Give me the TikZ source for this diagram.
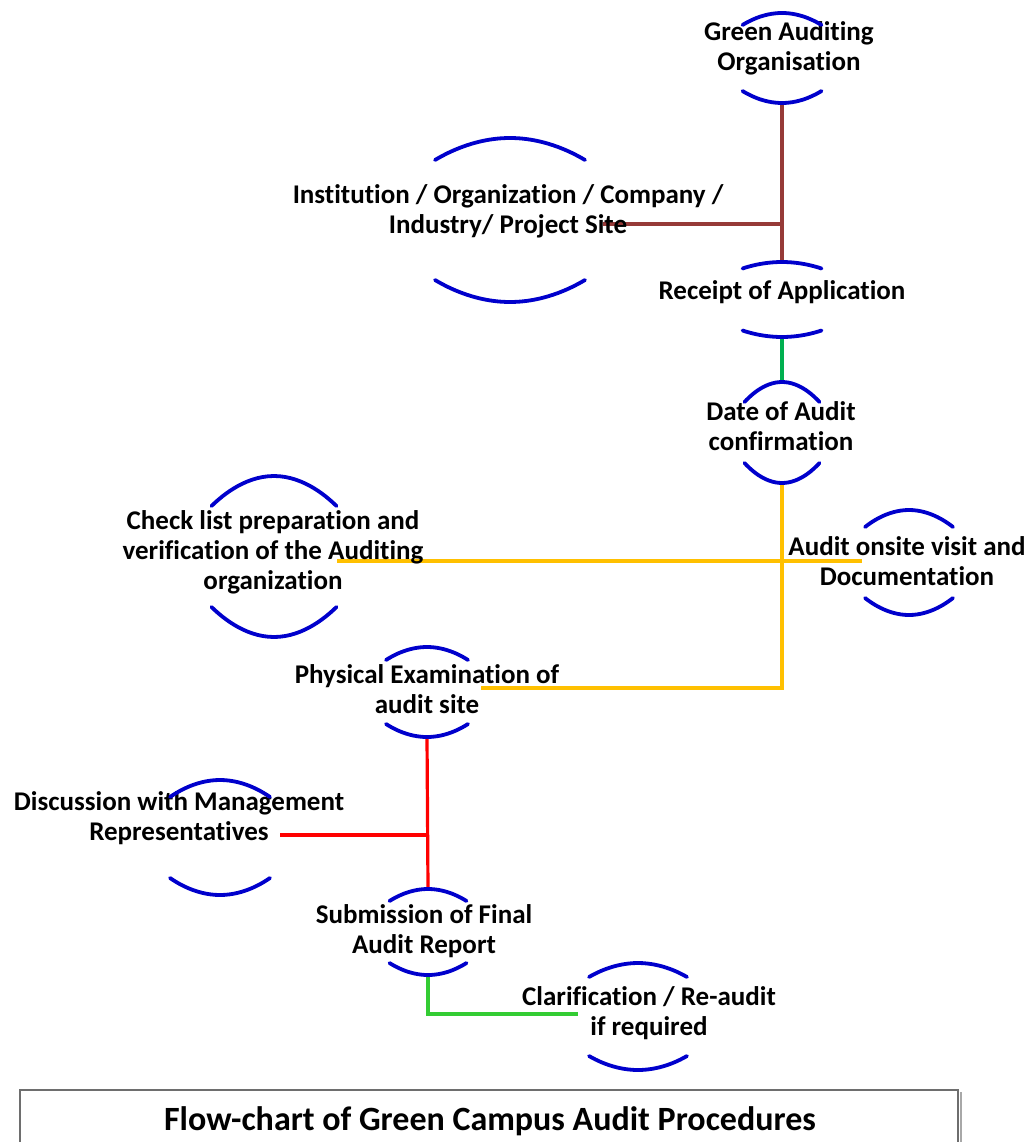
\documentclass[tikz,border=0pt]{standalone}
\usepackage{fontspec}
\setmainfont{Carlito}[Ligatures={NoCommon}]
\usetikzlibrary{calc,positioning,backgrounds}

\definecolor{arcblue}{RGB}{0,0,204}
\definecolor{linebrown}{RGB}{150,58,56}
\definecolor{linegreen}{RGB}{0,176,80}
\definecolor{linegold}{RGB}{255,192,0}
\definecolor{linered}{RGB}{255,0,0}
\definecolor{linelime}{RGB}{51,204,51}
\definecolor{boxgray}{RGB}{110,110,110}

\tikzset{
  lbl/.style={align=center, inner sep=0pt, font=\bfseries\fontsize{27}{30}\selectfont},
  arcline/.style={draw=arcblue, line width=3.8pt, line cap=round},
  conn/.style={line width=3.2pt}
}

% top and bottom arcs round a label: node, dx, dy, half width, half height, sagitta
\newcommand{\arcpair}[6]{%
  \draw[arcline] ($(#1)+(#2-#4,#3-#5+#6)$) parabola bend ($(#1)+(#2,#3-#5)$) ($(#1)+(#2+#4,#3-#5+#6)$);
  \draw[arcline] ($(#1)+(#2-#4,#3+#5-#6)$) parabola bend ($(#1)+(#2,#3+#5)$) ($(#1)+(#2+#4,#3+#5-#6)$);
  \coordinate (#1-t) at ($(#1)+(#2,#3-#5)$);
  \coordinate (#1-b) at ($(#1)+(#2,#3+#5)$);
}

\begin{document}
\begin{tikzpicture}[x=1pt, y=-1pt]
  \useasboundingbox (0,0) rectangle (1033,1142);

  \node[lbl] (ga) at (789,48) {Green Auditing\\Organisation};
  \node[lbl] (inst) at (508,211) {Institution / Organization / Company /\\Industry/ Project Site};
  \node[lbl] (rec) at (782,292) {Receipt of Application};
  \node[lbl] (date) at (781,426) {Date of Audit\\confirmation};
  \node[lbl] (chk) at (273,552) {Check list preparation and\\verification of the Auditing\\organization};
  \node[lbl] (onsite) at (907,561) {Audit onsite visit and\\Documentation};
  \node[lbl] (phys) at (427,689) {Physical Examination of\\audit site};
  \node[lbl] (disc) at (179,818) {Discussion with Management\\Representatives};
  \node[lbl] (sub) at (424,931) {Submission of Final\\Audit Report};
  \node[lbl] (clar) at (649,1013) {Clarification / Re-audit\\if required};

  \arcpair{ga}{-7}{10}{39.5}{45}{12}
  \arcpair{inst}{2}{9}{75}{82}{22}
  \arcpair{rec}{0}{7.5}{39.5}{37.5}{6.5}
  \arcpair{date}{1}{6.5}{37.5}{50.5}{20}
  \arcpair{chk}{1}{4.5}{62.5}{80.5}{30}
  \arcpair{onsite}{2}{1.5}{44}{52.5}{17}
  \arcpair{phys}{0}{3}{41}{45}{13}
  \arcpair{disc}{41}{19.5}{50}{57.5}{17}
  \arcpair{sub}{4}{1}{38.5}{43}{12}
  \arcpair{clar}{-11}{3.5}{49}{53.5}{14}

  \coordinate (inst-r) at ($(inst)+(95,13)$);
  \coordinate (chk-r) at ($(chk)+(64,9)$);
  \coordinate (onsite-l) at ($(onsite)+(-45,0)$);
  \coordinate (phys-r) at ($(phys)+(54,-1)$);
  \coordinate (disc-r) at ($(disc)+(101,17)$);
  \coordinate (clar-l) at ($(clar)+(-71,1)$);

  % connectors go under the texts
  \begin{scope}[on background layer]
    \draw[conn, linebrown] (ga-b) -- (rec-t);
    \draw[conn, linebrown] (inst-r) -- (inst-r -| ga-b);
    \draw[conn, linegreen] (rec-b) -- (date-t);
    \draw[conn, linegold] (date-b) |- (phys-r);
    \draw[conn, linegold] (chk-r) -- (onsite-l);
    \draw[conn, linered] (phys-b) -- (sub-t);
    \draw[conn, linered] (disc-r) -- (disc-r -| phys-b);
    \draw[conn, linelime] (sub-b) |- (clar-l);
  \end{scope}

  % caption box
  \draw[boxgray, line width=2pt] (20,1142) -- (20,1090) -- (958,1090) -- (958,1142);
  \draw[boxgray!60, line width=2pt] (961,1092) -- (961,1142);
  \node[font=\bfseries\fontsize{34}{36}\selectfont, inner sep=0pt] (cap) at (490,1121) {Flow-chart of Green Campus Audit Procedures};
\end{tikzpicture}
\end{document}
